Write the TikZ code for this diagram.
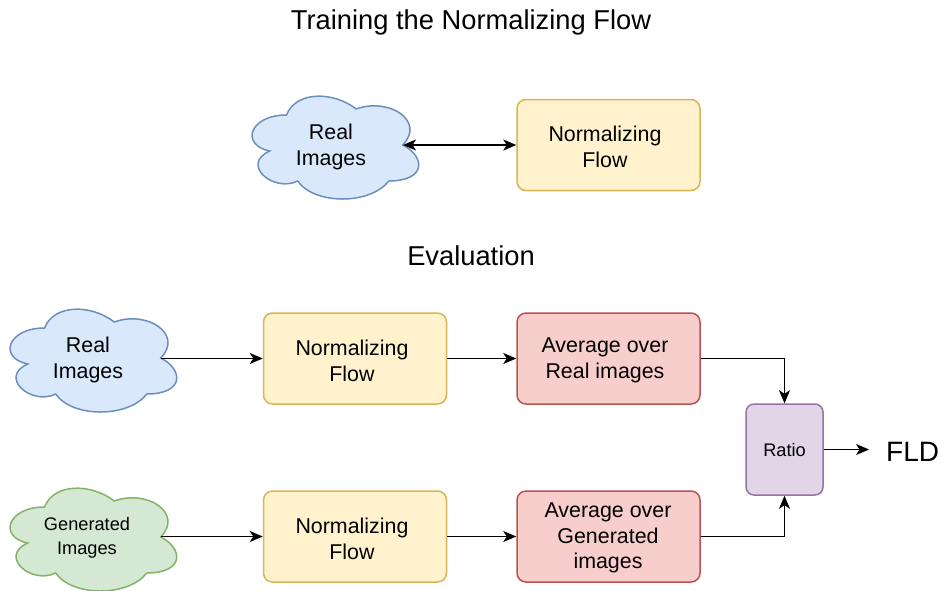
\documentclass[tikz,border=0pt]{standalone}
\usepackage{fontspec}
\setmainfont{Liberation Sans}
\usetikzlibrary{arrows.meta,calc}
\definecolor{bluefill}{HTML}{DAE8FC}\definecolor{bluedraw}{HTML}{6C8EBF}
\definecolor{yelfill}{HTML}{FFF2CC}\definecolor{yeldraw}{HTML}{D6B656}
\definecolor{redfill}{HTML}{F8CECC}\definecolor{reddraw}{HTML}{B85450}
\definecolor{grnfill}{HTML}{D5E8D4}\definecolor{grndraw}{HTML}{82B366}
\definecolor{purfill}{HTML}{E1D5E7}\definecolor{purdraw}{HTML}{9673A6}
\newcommand{\cloudshape}[5]{%
  \draw[#5] ({#1+0.25*#3},{#2+0.25*#4})
    .. controls ({#1+0.05*#3},{#2+0.25*#4}) and ({#1},{#2+0.5*#4}) .. ({#1+0.16*#3},{#2+0.55*#4})
    .. controls ({#1},{#2+0.66*#4}) and ({#1+0.18*#3},{#2+0.9*#4}) .. ({#1+0.31*#3},{#2+0.8*#4})
    .. controls ({#1+0.4*#3},{#2+#4}) and ({#1+0.7*#3},{#2+#4}) .. ({#1+0.8*#3},{#2+0.8*#4})
    .. controls ({#1+#3},{#2+0.8*#4}) and ({#1+#3},{#2+0.6*#4}) .. ({#1+0.875*#3},{#2+0.5*#4})
    .. controls ({#1+#3},{#2+0.3*#4}) and ({#1+0.8*#3},{#2+0.1*#4}) .. ({#1+0.625*#3},{#2+0.2*#4})
    .. controls ({#1+0.5*#3},{#2+0.05*#4}) and ({#1+0.3*#3},{#2+0.05*#4}) .. cycle;}
\begin{document}
\begin{tikzpicture}[x=1pt,y=-1pt,
  box/.style={draw,line width=1.5pt,rounded corners=9pt,minimum width=183pt,minimum height=91pt,
    inner sep=0pt,align=center,font=\fontsize{21.4}{25.8}\selectfont},
  yel/.style={box,fill=yelfill,draw=yeldraw},
  red/.style={box,fill=redfill,draw=reddraw},
  cloudtext/.style={align=center,inner sep=0pt,font=\fontsize{21.4}{25.8}\selectfont},
  title/.style={inner sep=0pt,font=\fontsize{27.3}{32}\selectfont},
  arr/.style={line width=1.6pt,-{Stealth[length=13pt,width=11pt,inset=3.5pt]}},
  darr/.style={line width=1.6pt,{Stealth[length=13pt,width=11pt,inset=3.5pt]}-{Stealth[length=13pt,width=11pt,inset=3.5pt]}}]
\useasboundingbox (0,0) rectangle (941,590);

\node[title] (t1) at (471,22) {Training the Normalizing Flow};
\node[title] (t2) at (471,256) {Evaluation};

% top row
\cloudshape{240}{85}{186}{120}{line width=1.5pt,fill=bluefill,draw=bluedraw}
\coordinate (c0e) at (403,145);
\node[cloudtext] (c0) at (331,147) {Real\\Images};
\node[yel] (nf0) at (608.5,145) {};
\node[cloudtext] (nf0t) at (605,147) {Normalizing\\Flow};
\draw[darr] (c0e) -- (nf0.west);

% evaluation row 1
\cloudshape{-2}{298}{186}{120}{line width=1.5pt,fill=bluefill,draw=bluedraw}
\coordinate (c1e) at (161,358.5);
\node[cloudtext] (c1) at (88,360) {Real\\Images};
\node[yel] (nf1) at (355,358.5) {};
\node[cloudtext] (nf1t) at (352,360.5) {Normalizing\\Flow};
\node[red] (av1) at (608.5,358.5) {};
\node[cloudtext] (av1t) at (605,360.5) {Average over\\Real images};

% evaluation row 2
\cloudshape{-2}{477}{186}{120}{line width=1.5pt,fill=grnfill,draw=grndraw}
\coordinate (c2e) at (161,536.5);
\node[cloudtext,font=\fontsize{18.2}{24}\selectfont] (c2) at (87,538) {Generated\\Images};
\node[yel] (nf2) at (355,536.5) {};
\node[cloudtext] (nf2t) at (352,538.5) {Normalizing\\Flow};
\node[red] (av2) at (608.5,536.5) {};
\node[cloudtext] (av2t) at (608,538) {Average over\\Generated\\images};

\node[box,fill=purfill,draw=purdraw,minimum width=77pt,rounded corners=8pt,font=\fontsize{18.2}{22}\selectfont] (ratio) at (784.5,449.5) {Ratio};
\node[inner xsep=17pt,inner ysep=0pt,anchor=west,font=\fontsize{28}{32}\selectfont] (fld) at (869,452) {FLD};

\draw[arr] (c1e) -- (nf1.west);
\draw[arr] (nf1.east) -- (av1.west);
\draw[arr] (c2e) -- (nf2.west);
\draw[arr] (nf2.east) -- (av2.west);
\draw[arr] (av1.east) -| (ratio.north);
\draw[arr] (av2.east) -| (ratio.south);
\draw[arr] (ratio.east) -- (ratio.east -| fld.west);
\end{tikzpicture}
\end{document}
